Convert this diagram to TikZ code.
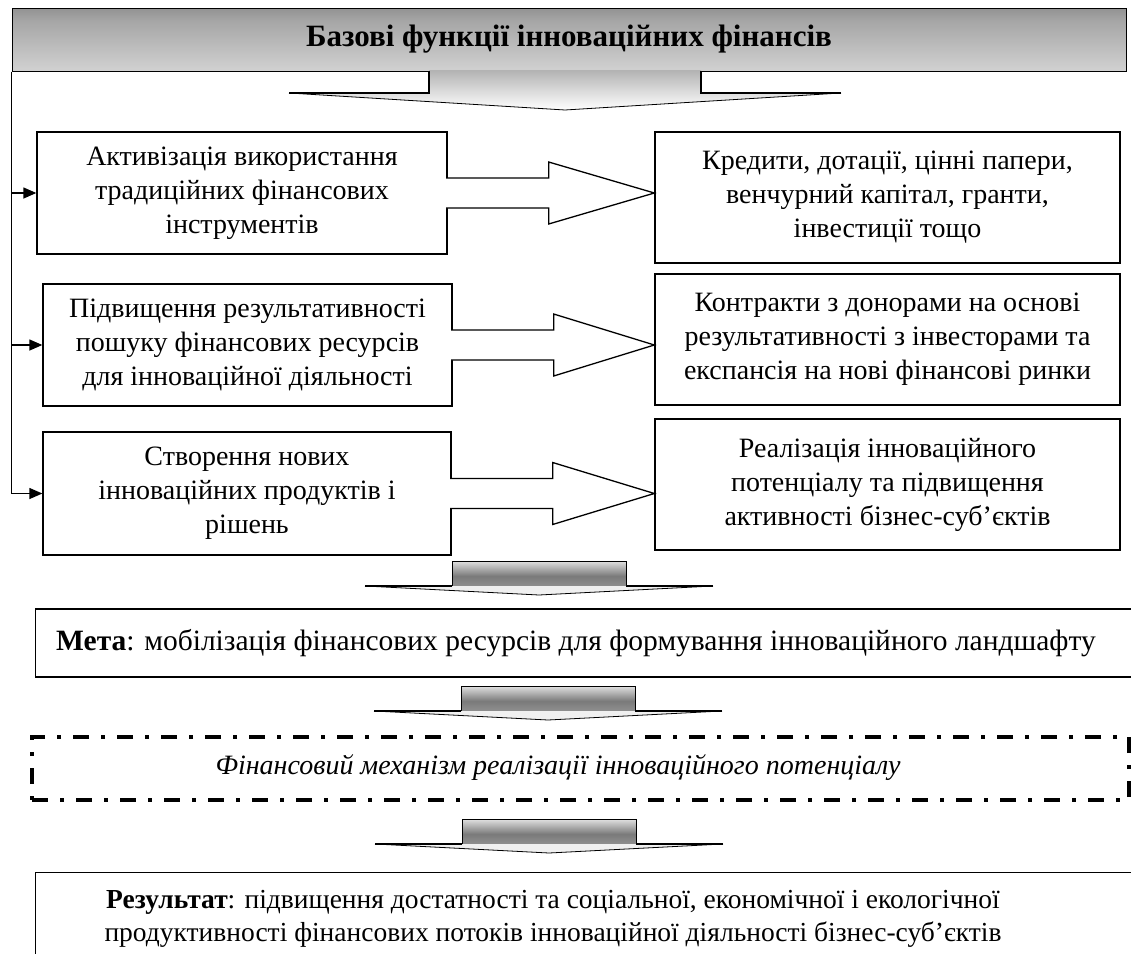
\documentclass[tikz,border=0pt]{standalone}
\usepackage{fontspec}
\setmainfont{Liberation Serif}
\usetikzlibrary{calc,arrows.meta}

% vertical shadings: positions run from bottom (0bp) to top (100bp)
\pgfdeclareverticalshading{bannershade}{100bp}{color(0bp)=(black!8); color(30bp)=(black!20); color(65bp)=(black!35); color(100bp)=(black!62)}
\pgfdeclareverticalshading{shaftshade}{100bp}{color(0bp)=(black!15); color(20bp)=(black!42); color(45bp)=(black!52); color(75bp)=(black!12); color(100bp)=(black!22)}

\begin{document}
\begin{tikzpicture}[x=1pt,y=-1pt,
  txt/.style={font=\fontsize{28}{34}\selectfont},
  box/.style={txt, draw=black, line width=1.3pt, fill=white, inner sep=0pt, align=center},
  conn/.style={line width=1.3pt, -{Triangle[length=13pt,width=11pt]}},
  dashdot box/.style={draw=black, line width=3.5pt, dash pattern=on 16pt off 12pt on 4pt off 12pt},
  gradarrow/.pic={
    \shade[shading=shaftshade] (-87,-34) rectangle (87,-9);
    \fill[black!6] (-174,-9) -- (174,-9) -- (0,0) -- cycle;
    \draw[line width=1pt] (-87,-9) -- (-87,-34) -- (87,-34) -- (87,-9);
    \draw[line width=0.8pt] (-174,-9) -- (0,0) -- (174,-9);
    \draw[line width=2.6pt] (-174,-9) -- (-87,-9) (87,-9) -- (174,-9);
  }]
\useasboundingbox (0,0) rectangle (1131,953);
\clip (0,0) rectangle (1131,953);

% title banner
\node[shade, shading=bannershade, draw=black, line width=1pt,
      minimum width=1114pt, minimum height=63pt, inner sep=0pt,
      font=\fontsize{31}{36}\selectfont\bfseries] (B) at (569,39.5)
      {Базові функції інноваційних фінансів};

% wide arrow under the banner
\coordinate (bt) at (565,110);
\shade[top color=black!30, bottom color=white]
  ($(bt)+(-136,-40)$) -- ($(bt)+(-136,-17)$) -- ($(bt)+(-276,-17)$) -- (bt)
  -- ($(bt)+(276,-17)$) -- ($(bt)+(136,-17)$) -- ($(bt)+(136,-40)$) -- cycle;
\draw[line width=0.8pt] ($(bt)+(-276,-17)$) -- (bt) -- ($(bt)+(276,-17)$);
\draw[line width=1.2pt] ($(bt)+(-136,-39)$) -- ($(bt)+(-136,-17)$) -- ($(bt)+(-276,-17)$)
  ($(bt)+(136,-39)$) -- ($(bt)+(136,-17)$) -- ($(bt)+(276,-17)$);

% left column
\node[box, minimum width=410pt, minimum height=122pt] (L1) at (242,193)
  {Активізація використання\\традиційних фінансових\\інструментів};
\node[box, minimum width=409pt, minimum height=122pt] (L2) at (247.5,345)
  {Підвищення результативності\\пошуку фінансових ресурсів\\для інноваційної діяльності};
\node[box, minimum width=408pt, minimum height=123pt] (L3) at (247,493.5)
  {Створення нових\\інноваційних продуктів і\\рішень};

% right column
\node[box, minimum width=465pt, minimum height=131pt] (R1) at (887.5,197.5)
  {Кредити, дотації, цінні папери,\\венчурний капітал, гранти,\\інвестиції тощо};
\node[box, minimum width=465pt, minimum height=131pt] (R2) at (887.5,339.5)
  {Контракти з донорами на основі\\результативності з інвесторами та\\експансія на нові фінансові ринки};
\node[box, minimum width=465pt, minimum height=131pt] (R3) at (887.5,484.5)
  {Реалізація інноваційного\\потенціалу та підвищення\\активності бізнес-суб’єктів};

% block arrows from the left boxes to the right boxes
\foreach \a/\b in {L1/R1,L2/R2,L3/R3}{
  \filldraw[fill=white, line width=1.3pt, line join=miter]
    ($(\a.east)+(-1.5,-15)$) -- ($(\a.east)+(101,-15)$) -- ($(\a.east)+(101,-31)$)
    -- (\a.east -| \b.west) -- ($(\a.east)+(101,31)$) -- ($(\a.east)+(101,15)$)
    -- ($(\a.east)+(-1.5,15)$);
}

% feed line from the banner to the left boxes
\draw[conn] (B.south west) |- (L3.west);
\draw[conn] (B.south west |- L1.west) -- (L1.west);
\draw[conn] (B.south west |- L2.west) -- (L2.west);

% goal
\node[box, anchor=west, minimum width=1130pt, minimum height=68pt] (M) at (35,643) {};
\node[anchor=west, inner sep=0pt, font=\fontsize{29.5}{34}\selectfont] (Mt) at (56,643)
  {\textbf{Мета}: мобілізація фінансових ресурсів для формування інноваційного ландшафту};

% financial mechanism
\node[dashdot box, minimum width=1097pt, minimum height=63pt] (F) at (580.5,768.5) {};
\node[txt, font=\fontsize{28}{34}\selectfont\itshape] (Ft) at (558,768)
  {Фінансовий механізм реалізації інноваційного потенціалу};

% result
\node[box, anchor=north west, minimum width=1130pt, minimum height=94pt] (R) at (35,872) {};
\node[align=center, font=\fontsize{27.5}{33}\selectfont] (Rt) at (553,919)
  {\textbf{Результат}: підвищення достатності та соціальної, економічної і екологічної\\
   продуктивності фінансових потоків інноваційної діяльності бізнес-суб’єктів};

% shaded down arrows between the lower blocks
\coordinate (g1) at (539,595);
\coordinate (g2) at (548,720);
\coordinate (g3) at (549,853);
\pic at (g1) {gradarrow};
\pic at (g2) {gradarrow};
\pic at (g3) {gradarrow};
\end{tikzpicture}
\end{document}
